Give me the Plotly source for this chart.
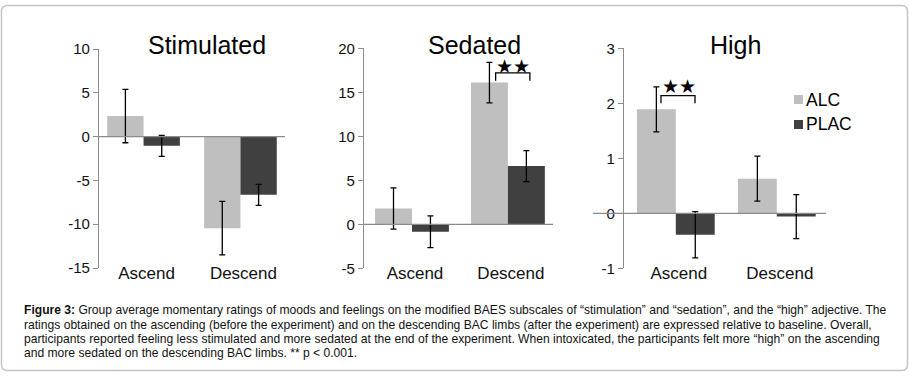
import plotly.graph_objects as go

W, H = 909, 376

categories = ["Ascend", "Descend"]
series_names = ["ALC", "PLAC"]
panel_titles = ["Stimulated", "Sedated", "High"]

stim_alc = [2.35, -10.45]
stim_alc_err = [3.05, 3.05]
stim_plac = [-1.05, -6.65]
stim_plac_err = [1.2, 1.2]

sed_alc = [1.8, 16.1]
sed_alc_err = [2.35, 2.3]
sed_plac = [-0.84, 6.62]
sed_plac_err = [1.8, 1.76]

high_alc = [1.89, 0.63]
high_alc_err = [0.41, 0.41]
high_plac = [-0.39, -0.06]
high_plac_err = [0.42, 0.40]

stim_ticks = [-15, -10, -5, 0, 5, 10]
sed_ticks = [-5, 0, 5, 10, 15, 20]
high_ticks = [-1, 0, 1, 2, 3]

caption_lines = [
    "<b>Figure 3:</b> Group average momentary ratings of moods and feelings on the modified BAES subscales of \u201cstimulation\u201d and \u201csedation\u201d, and the \u201chigh\u201d adjective. The",
    "ratings obtained on the ascending (before the experiment) and on the descending BAC limbs (after the experiment) are expressed relative to baseline. Overall,",
    "participants reported feeling less stimulated and more sedated at the end of the experiment. When intoxicated, the participants felt more \u201chigh\u201d on the ascending",
    "and more sedated on the descending BAC limbs. ** p &lt; 0.001.",
]

ALC_COLOR = "#bfbfbf"
PLAC_COLOR = "#404040"
AXIS_COLOR = "#8c8c8c"
FONT = "Liberation Sans, Arial, sans-serif"


def px_x(p):
    return p / W


def px_y(p):
    return (H - p) / H


panels = [
    dict(alc=stim_alc, alce=stim_alc_err, plac=stim_plac, place=stim_plac_err,
         ticks=stim_ticks, yr=[-15, 10], xdom=[99, 285], ydom=[268, 49],
         xr=[-0.46, 1.46], w=0.375, title_x=207, zero_x0=0.0),
    dict(alc=sed_alc, alce=sed_alc_err, plac=sed_plac, place=sed_plac_err,
         ticks=sed_ticks, yr=[-5, 20], xdom=[364, 553], ydom=[268.3, 48.3],
         xr=[-0.5, 1.47], w=0.385, title_x=474, zero_x0=0.0),
    dict(alc=high_alc, alce=high_alc_err, plac=high_plac, place=high_plac_err,
         ticks=high_ticks, yr=[-1, 3], xdom=[624, 826], ydom=[268.3, 48.3],
         xr=[-0.513, 1.487], w=0.385, title_x=735.5, zero_x0=-0.153),
]

fig = go.Figure()
layout = dict(
    width=W, height=H, autosize=False,
    margin=dict(l=0, r=0, t=0, b=0, pad=0, autoexpand=False),
    paper_bgcolor="white", plot_bgcolor="white",
    showlegend=False, barmode="overlay",
    font=dict(family=FONT, color="#111111"),
)
shapes = []
annotations = []

xpos = [0, 1]
for i, p in enumerate(panels):
    n = "" if i == 0 else str(i + 1)
    xa, ya = "x" + n, "y" + n
    w = p["w"]
    fig.add_trace(go.Bar(
        x=xpos, y=p["alc"], width=w, offset=-w, name=series_names[0],
        marker=dict(color=ALC_COLOR, line=dict(width=0)),
        error_y=dict(type="data", array=p["alce"], color="black", thickness=1.3, width=3),
        xaxis=xa, yaxis=ya,
    ))
    fig.add_trace(go.Bar(
        x=xpos, y=p["plac"], width=w, offset=0, name=series_names[1],
        marker=dict(color=PLAC_COLOR, line=dict(width=0)),
        error_y=dict(type="data", array=p["place"], color="black", thickness=1.3, width=3),
        xaxis=xa, yaxis=ya,
    ))
    layout["xaxis" + n] = dict(
        domain=[px_x(p["xdom"][0]), px_x(p["xdom"][1])], range=p["xr"],
        anchor=ya, showgrid=False, zeroline=False, showline=False, ticks="",
        automargin=False,
        tickvals=xpos, ticktext=categories, tickfont=dict(size=17, color="#111111"),
        ticklabelstandoff=-7, ticklabelshift=3, fixedrange=True,
    )
    layout["yaxis" + n] = dict(
        domain=[px_y(p["ydom"][0]), px_y(p["ydom"][1])], range=p["yr"],
        anchor=xa, showgrid=False, zeroline=False, showline=True, automargin=False,
        linecolor=AXIS_COLOR, linewidth=1.3, ticks="outside", ticklen=5,
        tickcolor=AXIS_COLOR, tickwidth=1.3,
        tickvals=p["ticks"], ticktext=[str(t) for t in p["ticks"]],
        tickfont=dict(size=15, color="#111111"), fixedrange=True,
    )
    shapes.append(dict(type="line", xref=xa + " domain", yref=ya,
                       x0=p["zero_x0"], x1=1, y0=0, y1=0,
                       line=dict(color=AXIS_COLOR, width=1.3), layer="above"))
    annotations.append(dict(text=panel_titles[i], x=px_x(p["title_x"]), y=px_y(45),
                            xref="paper", yref="paper", xanchor="center", yanchor="middle",
                            showarrow=False, font=dict(size=25, color="#000000", family=FONT)))

# significance brackets
brackets = [
    dict(xa="x2", ya="y2", x0=0.872, x1=1.229, ytop=17.2, ybot=16.3, sx=1.052, sy=18.0),
    dict(xa="x3", ya="y3", x0=-0.147, x1=0.19, ytop=2.14, ybot=2.0, sx=0.027, sy=2.32),
]
for b in brackets:
    shapes.append(dict(type="path", xref=b["xa"], yref=b["ya"],
                       path=f"M {b['x0']},{b['ybot']} L {b['x0']},{b['ytop']} L {b['x1']},{b['ytop']} L {b['x1']},{b['ybot']}",
                       line=dict(color="black", width=1.3)))
    annotations.append(dict(text="\u2605\u2605", x=b["sx"], y=b["sy"], xref=b["xa"], yref=b["ya"],
                            xanchor="center", yanchor="middle", showarrow=False,
                            font=dict(size=19, color="black", family="DejaVu Sans")))

# legend (manual)
for name, col, yc in [(series_names[0], ALC_COLOR, 99.5), (series_names[1], PLAC_COLOR, 124.5)]:
    shapes.append(dict(type="rect", xref="paper", yref="paper",
                       x0=px_x(794), x1=px_x(803), y0=px_y(yc + 4.5), y1=px_y(yc - 4.5),
                       fillcolor=col, line=dict(width=0)))
    annotations.append(dict(text=name, x=px_x(804), y=px_y(yc), xref="paper", yref="paper",
                            xanchor="left", yanchor="middle", showarrow=False,
                            font=dict(size=17.5, color="#000000", family=FONT)))

# caption
for k, line in enumerate(caption_lines):
    annotations.append(dict(text=line, x=px_x(22), y=px_y(310.3 + 14.3 * k), xref="paper", yref="paper",
                            xanchor="left", yanchor="middle", showarrow=False, align="left",
                            font=dict(size=12.1, color="#111111", family=FONT)))

# rounded border box
x0, y0, x1, y1, r = 1.5, 5.5, 907.5, 370.5, 6
path = (f"M {x0+r},{y0} L {x1-r},{y0} Q {x1},{y0} {x1},{y0+r} L {x1},{y1-r} Q {x1},{y1} {x1-r},{y1} "
        f"L {x0+r},{y1} Q {x0},{y1} {x0},{y1-r} L {x0},{y0+r} Q {x0},{y0} {x0+r},{y0} Z")


def conv(path):
    out = []
    for tok in path.split(" "):
        if "," in tok:
            a, b = tok.split(",")
            out.append(f"{px_x(float(a)):.5f},{px_y(float(b)):.5f}")
        else:
            out.append(tok)
    return " ".join(out)


shapes.append(dict(type="path", xref="paper", yref="paper", path=conv(path),
                   line=dict(color="#c4c4c4", width=1.5), layer="below"))

layout["shapes"] = shapes
layout["annotations"] = annotations
fig.update_layout(**layout)

post = ("document.documentElement.style.margin='0';document.documentElement.style.padding='0';"
        "document.documentElement.style.overflow='hidden';"
        "document.body.style.margin='0';document.body.style.padding='0';document.body.style.overflow='hidden';"
        "Plotly.relayout('{plot_id}', {width: 909, height: 376});")
fig.write_html("out.html", config={"responsive": False, "displayModeBar": False}, post_script=post)
